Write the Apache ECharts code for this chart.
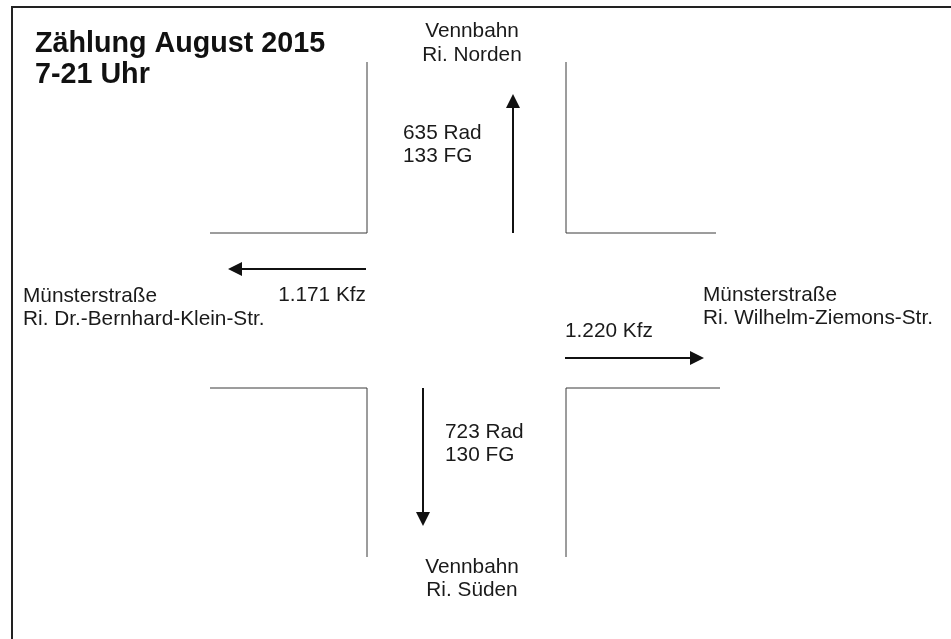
<!DOCTYPE html>
<html>
<head>
<meta charset="utf-8">
<script src="https://cdn.jsdelivr.net/npm/echarts@6/dist/echarts.min.js"></script>
<style>html,body{margin:0;padding:0;background:#fff}#c{width:951px;height:639px}</style>
</head>
<body>
<div id="c"></div>
<script>
// ---- data ----
const titleLines = ['Zählung August 2015', '7-21 Uhr'];
const destRoad = ['Vennbahn', 'Münsterstraße', 'Münsterstraße', 'Vennbahn'];
const destDir = ['Ri. Norden', 'Ri. Dr.-Bernhard-Klein-Str.', 'Ri. Wilhelm-Ziemons-Str.', 'Ri. Süden'];
const radCounts = [635, null, null, 723];
const fgCounts = [133, null, null, 130];
const kfzCounts = [null, 1171, 1220, null];

// ---- layout (diagram space = pixel space of the 951x639 canvas) ----
const frame = [[12, 639], [12, 7], [951, 7]];
const roadEdges = [
  [[367, 62], [367, 233], [210, 233]],
  [[566, 62], [566, 233], [716, 233]],
  [[210, 388], [367, 388], [367, 557]],
  [[720, 388], [566, 388], [566, 557]]
];
const arrowPaths = [
  [[513, 233], [513, 94]],
  [[366, 269], [228, 269]],
  [[565, 358], [704, 358]],
  [[423, 388], [423, 526]]
];
const destAnchors = [[472, 43.5, 'center'], [23, 308, 'left'], [703, 307, 'left'], [472, 579, 'center']];
const countAnchors = [[403, 145, 'left'], [366, 295, 'right'], [565, 331, 'left'], [445, 444, 'left']];
const ARROW = 14;

const fmt = n => String(n).replace(/\B(?=(\d{3})+(?!\d))/g, '.');

function arrowCoords(p) {
  const [a, b] = p;
  const dx = b[0] - a[0], dy = b[1] - a[1];
  const len = Math.sqrt(dx * dx + dy * dy);
  const k = (len - ARROW / 2) / len;
  return [a, [a[0] + dx * k, a[1] + dy * k]];
}

const labelData = [];
destRoad.forEach((r, i) => {
  labelData.push({
    value: [destAnchors[i][0], destAnchors[i][1]],
    label: { align: destAnchors[i][2], formatter: r + '\n' + destDir[i] }
  });
  let t;
  if (radCounts[i] != null) t = fmt(radCounts[i]) + ' Rad\n' + fmt(fgCounts[i]) + ' FG';
  else t = fmt(kfzCounts[i]) + ' Kfz';
  labelData.push({
    value: [countAnchors[i][0], countAnchors[i][1]],
    label: { align: countAnchors[i][2], formatter: t }
  });
});

const chart = echarts.init(document.getElementById('c'), null, { renderer: 'canvas' });
chart.setOption({
  animation: false,
  backgroundColor: '#fff',
  title: {
    text: titleLines.join('\n'),
    left: 30, top: 24,
    textStyle: { fontFamily: 'Liberation Sans', fontWeight: 'bold', fontSize: 28.7, lineHeight: 31, color: '#111' }
  },
  grid: { left: 0, right: 0, top: 0, bottom: 0 },
  xAxis: { type: 'value', min: 0, max: 951, show: false },
  yAxis: { type: 'value', min: 0, max: 639, inverse: true, show: false },
  series: [
    {
      type: 'lines', coordinateSystem: 'cartesian2d', polyline: true, silent: true,
      lineStyle: { color: '#222', width: 2, opacity: 1 },
      data: [{ coords: frame }]
    },
    {
      type: 'lines', coordinateSystem: 'cartesian2d', polyline: true, silent: true,
      lineStyle: { color: '#3a3a3a', width: 1, opacity: 1 },
      data: roadEdges.map(c => ({ coords: c }))
    },
    {
      type: 'lines', coordinateSystem: 'cartesian2d', silent: true,
      symbol: ['none', 'triangle'], symbolSize: ARROW,
      lineStyle: { color: '#111', width: 2, opacity: 1 },
      itemStyle: { color: '#111' },
      data: arrowPaths.map(p => ({ coords: arrowCoords(p) }))
    },
    {
      type: 'scatter', silent: true, symbolSize: 0,
      itemStyle: { color: 'rgba(0,0,0,0)', opacity: 1 },
      label: {
        show: true, position: 'inside', verticalAlign: 'middle', opacity: 1,
        fontFamily: 'Liberation Sans', fontSize: 20.8, lineHeight: 23.5, color: '#1a1a1a'
      },
      data: labelData
    }
  ]
});
</script>
</body>
</html>
